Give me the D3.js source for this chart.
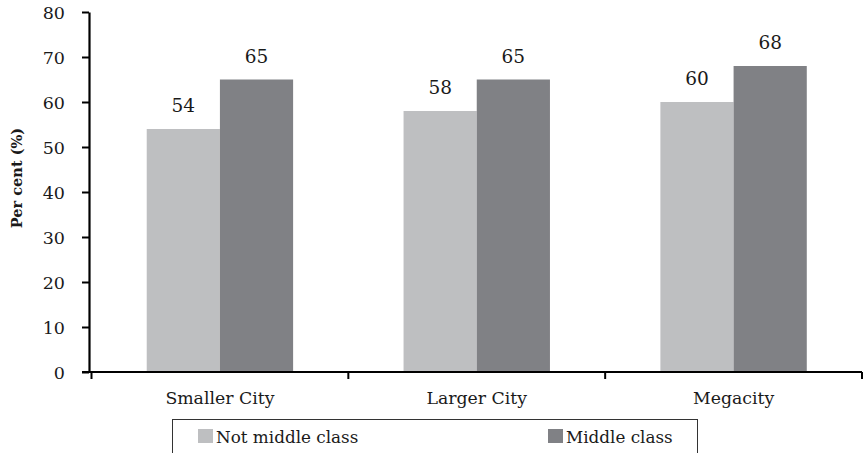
<!DOCTYPE html>
<html>
<head>
<meta charset="utf-8">
<script src="https://cdn.jsdelivr.net/npm/d3@7"></script>
<style>
  html, body { margin: 0; padding: 0; background: #fff; }
  svg { display: block; }
  text { font-family: "DejaVu Serif", "Liberation Serif", serif; fill: #1a1a1a; }
</style>
</head>
<body>
<svg id="chart" width="865" height="453"></svg>
<script>
// City size categories and survey shares (%)
const categories = ["Smaller City", "Larger City", "Megacity"];
const seriesNames = ["Not middle class", "Middle class"];
const notMiddleClass = [54, 58, 60];
const middleClass = [65, 65, 68];
const yTicks = [0, 10, 20, 30, 40, 50, 60, 70, 80];
const colors = ["#bebfc1", "#808185"];

const svg = d3.select("#chart");
const margin = { left: 89, right: 3, top: 12, bottom: 81 };
const W = 865, H = 453;

const x = d3.scaleBand().domain(categories)
  .range([margin.left + 2.5, W - margin.right]).paddingInner(0.43).paddingOuter(0.215);
const xs = d3.scaleBand().domain(seriesNames).range([0, x.bandwidth()]);
const y = d3.scaleLinear().domain([0, 80]).range([H - margin.bottom, margin.top]);

const rows = categories.map((c, i) => ({ cat: c, vals: [notMiddleClass[i], middleClass[i]] }));

// bars with value labels
const g = svg.append("g");
rows.forEach(r => {
  r.vals.forEach((v, j) => {
    g.append("rect")
      .attr("x", x(r.cat) + xs(seriesNames[j]))
      .attr("y", y(v))
      .attr("width", xs.bandwidth())
      .attr("height", y(0) - y(v))
      .attr("fill", colors[j]);
    g.append("text")
      .attr("x", x(r.cat) + xs(seriesNames[j]) + xs.bandwidth() / 2)
      .attr("y", y(v) - 17)
      .attr("text-anchor", "middle")
      .attr("font-size", 18.5)
      .text(v);
  });
});

// y axis
const yAxis = svg.append("g").attr("transform", `translate(${margin.left},0)`)
  .call(d3.axisLeft(y).tickValues(yTicks).tickSize(7).tickSizeOuter(0).tickPadding(17));
yAxis.select(".domain").attr("stroke", "#000").attr("stroke-width", 2.2);
yAxis.selectAll(".tick line").attr("stroke", "#000").attr("stroke-width", 2);
yAxis.selectAll(".tick text").attr("font-size", 17.5).attr("font-family", "DejaVu Serif, serif")
  .attr("fill", "#1a1a1a").attr("dy", "0.36em");

// x axis with ticks at category boundaries
const step = x.step();
const xAxisG = svg.append("g").attr("transform", `translate(0,${y(0)})`);
xAxisG.append("line").attr("x1", margin.left - 7).attr("x2", W - margin.right)
  .attr("stroke", "#000").attr("stroke-width", 2.2);
const bounds = categories.map(c => x(c) + x.bandwidth() / 2 + step / 2);
bounds.unshift(x(categories[0]) + x.bandwidth() / 2 - step / 2);
bounds.forEach(b => {
  xAxisG.append("line").attr("x1", b).attr("x2", b).attr("y1", 0).attr("y2", 7)
    .attr("stroke", "#000").attr("stroke-width", 2);
});
categories.forEach(c => {
  xAxisG.append("text").attr("x", x(c) + x.bandwidth() / 2).attr("y", 32)
    .attr("text-anchor", "middle").attr("font-size", 17.3).text(c);
});

// y axis title
svg.append("text")
  .attr("transform", `translate(22,178) rotate(-90)`)
  .attr("text-anchor", "middle").attr("font-size", 14.5).attr("font-weight", "bold")
  .text("Per cent (%)");

// legend
const lg = svg.append("g");
lg.append("rect").attr("x", 172.5).attr("y", 419.5).attr("width", 525).attr("height", 40)
  .attr("fill", "none").attr("stroke", "#333").attr("stroke-width", 1);
const legendX = [198, 548];
seriesNames.forEach((s, j) => {
  lg.append("rect").attr("x", legendX[j]).attr("y", 429).attr("width", 15).attr("height", 14)
    .attr("fill", colors[j]);
  lg.append("text").attr("x", legendX[j] + 18).attr("y", 443).attr("font-size", 16.8).text(s);
});
</script>
</body>
</html>
